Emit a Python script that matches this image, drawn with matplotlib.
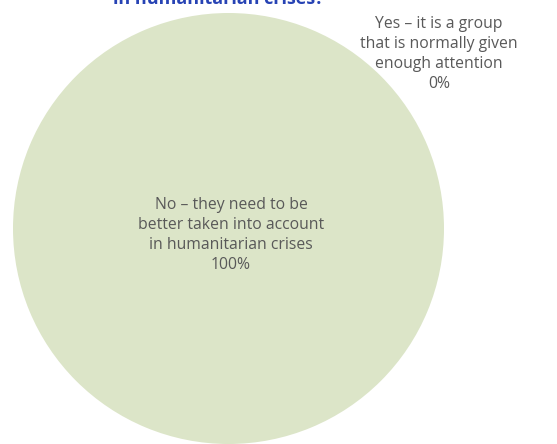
import matplotlib.pyplot as plt

plt.rcParams['font.family'] = ['Open Sans', 'DejaVu Sans']

labels = [
    "No – they need to be\nbetter taken into account\nin humanitarian crises",
    "Yes – it is a group\nthat is normally given\nenough attention",
]
shares = [100, 0]
colors = ['#dce5c8', '#9fb87a']
title = "in humanitarian crises?"

W, H = 557, 444
fig = plt.figure(figsize=(W / 100, H / 100), dpi=100)

# pie occupies a square of 431 px with its centre near (228, 228) from the top-left
r_px = 215.5
cx, cy = 228.5, 228.5
ax = fig.add_axes([(cx - r_px) / W, (H - cy - r_px) / H, 2 * r_px / W, 2 * r_px / H])
ax.pie(shares, colors=colors, startangle=90, counterclock=False, radius=1,
       wedgeprops=dict(linewidth=0))
ax.set_xlim(-1, 1)
ax.set_ylim(-1, 1)
ax.axis('off')

text_color = '#595959'
fig.text(231 / W, 1 - 235 / H, f"{labels[0]}\n{shares[0]}%", ha='center', va='center',
         fontsize=11.3, color=text_color, linespacing=1.36)
fig.text(439 / W, 1 - 54 / H, f"{labels[1]}\n{shares[1]}%", ha='center', va='center',
         fontsize=11.3, color=text_color, linespacing=1.36)

# last line of the heading; the lines above it fall outside the canvas
fig.text(218 / W, 1 - 3.5 / H, title, ha='center', va='baseline', fontsize=13,
         fontweight='bold', color='#2743b4')

fig.savefig('out.png', dpi=100)
